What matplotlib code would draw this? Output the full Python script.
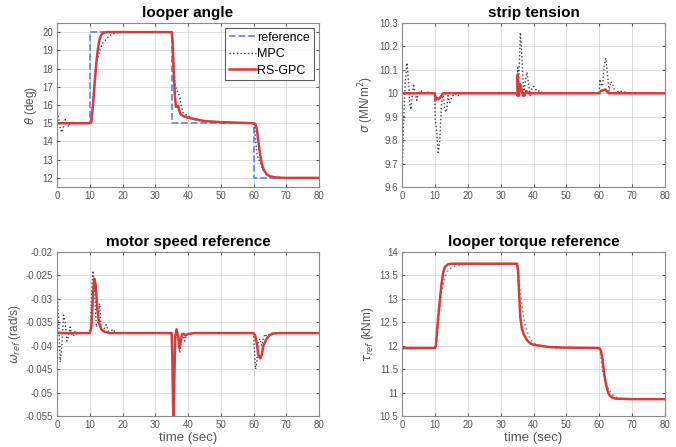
import matplotlib
matplotlib.use("Agg")
import matplotlib.pyplot as plt

plt.rcParams['font.family'] = ['Liberation Sans', 'DejaVu Sans']
plt.rcParams['mathtext.fontset'] = 'dejavusans'

# ---------------- data ----------------
# looper angle (deg)
ref_t = [0, 10, 10, 35, 35, 60, 60, 80]
ref_theta = [15, 15, 20, 20, 15, 15, 12, 12]

mpc_theta_t = [0, 0.5, 1, 1.5, 2, 2.5, 3, 3.5, 4, 5, 6, 10, 10.5, 11, 11.5, 12, 12.5, 13, 14, 15, 16, 17, 18, 20,
               35, 35.3, 35.7, 36, 36.5, 37, 37.5, 38, 38.5, 39, 40, 42, 45, 50, 60, 60.3, 60.7, 61, 61.5, 62,
               62.5, 63, 64, 65, 67, 70, 80]
mpc_theta = [15.6, 15.3, 14.7, 14.5, 14.8, 15.2, 15.1, 14.8, 15.0, 15.05, 15.0, 15.0, 15.3, 16.3, 17.5, 18.3, 18.6,
             19.0, 19.4, 19.6, 19.8, 19.9, 19.95, 20.0,
             20.0, 19.5, 18.0, 17.2, 16.8, 16.7, 16.4, 15.9, 15.6, 15.5, 15.4, 15.2, 15.1, 15.05, 15.0, 14.8, 14.0,
             13.4, 13.0, 12.9, 12.6, 12.4, 12.2, 12.1, 12.03, 12.0, 12.0]

gpc_theta_t = [0, 10, 10.3, 10.5, 11, 11.5, 12, 12.5, 13, 13.5, 14, 15, 35, 35.3, 35.6, 36, 36.3, 37, 37.3, 37.7,
               38.5, 40, 45, 50, 55, 60, 60.5, 61, 61.5, 62, 62.5, 63, 64, 65, 67, 70, 80]
gpc_theta = [15, 15, 15.02, 15.1, 16.0, 17.2, 18.3, 19.1, 19.6, 19.85, 19.95, 20.0, 20.0, 19.5, 18.0, 16.5, 15.9,
             15.95, 15.7, 15.5, 15.4, 15.3, 15.12, 15.06, 15.03, 15.0, 14.95, 14.7, 14.0, 13.3, 12.8, 12.5, 12.2,
             12.08, 12.02, 12.0, 12.0]

# strip tension (MN/m^2)
mpc_sig_t = [0, 0.3, 0.7, 1, 1.5, 2, 2.3, 2.7, 3, 3.5, 4, 4.5, 5, 5.5, 6, 7, 8, 10, 10.1, 10.5, 11, 11.5, 12, 12.5,
             13, 13.5, 14, 14.5, 15, 16, 17, 18, 35, 35.2, 35.5, 36, 36.5, 37, 37.5, 38, 38.5, 39, 39.5, 40, 41,
             42, 43, 60, 60.2, 60.5, 61, 61.5, 62, 62.5, 63, 63.5, 64, 65, 66, 68, 70, 80]
mpc_sig = [9.6, 9.8, 9.95, 10.05, 10.13, 10.05, 9.96, 9.93, 9.97, 10.04, 10.0, 9.97, 10.01, 10.0, 10.01, 10.0,
           10.005, 10.0, 9.89, 9.85, 9.74, 9.80, 9.95, 10.0, 9.93, 9.92, 9.99, 9.96, 9.98, 10.0, 9.99, 10.0,
           10.0, 10.11, 10.05, 10.26, 10.15, 10.0, 10.05, 10.09, 10.04, 9.99, 10.02, 10.03, 10.01, 10.01, 10.0,
           10.0, 10.06, 10.04, 10.03, 10.12, 10.15, 10.08, 10.01, 10.05, 10.04, 10.0, 10.01, 10.005, 10.0, 10.0]

gpc_sig_t = [0, 10, 10.2, 10.5, 11, 11.5, 12, 12.5, 35, 35.1, 35.2, 35.4, 35.6, 35.9, 36.3, 36.8, 37.3, 37.8, 38.5,
             60, 60.5, 61.5, 62, 62.5, 63, 80]
gpc_sig = [10.0, 10.0, 9.97, 9.98, 9.975, 9.98, 9.99, 10.0, 10.0, 9.99, 10.08, 10.0, 9.99, 10.04, 10.02, 9.99,
           9.99, 10.01, 10.0, 10.0, 10.01, 10.015, 10.015, 10.005, 10.0, 10.0]

# motor speed reference (rad/s)
mpc_w_t = [0, 0.5, 1, 1.5, 2, 2.5, 3, 3.5, 4, 4.5, 5, 5.5, 6, 7, 10, 10.3, 10.7, 11, 11.5, 12, 12.5, 13, 13.5, 14,
           15, 16, 17, 18, 35, 35.3, 35.6, 36, 36.5, 37, 37.5, 38, 38.5, 39, 39.5, 40, 42, 60, 60.3, 60.6, 61,
           61.5, 62, 62.5, 63, 63.5, 64, 65, 66, 80]
mpc_w = [-0.0275, -0.035, -0.0435, -0.040, -0.0335, -0.035, -0.039, -0.038, -0.036, -0.0375, -0.038, -0.037,
         -0.0375, -0.0372, -0.0373, -0.035, -0.027, -0.024, -0.028, -0.036, -0.035, -0.031, -0.0365, -0.037,
         -0.0355, -0.0375, -0.0365, -0.0373, -0.0373, -0.045, -0.052, -0.040, -0.0365, -0.039, -0.0415, -0.038,
         -0.0375, -0.039, -0.0378, -0.0375, -0.0373, -0.0373, -0.041, -0.045, -0.0435, -0.039, -0.0385, -0.040,
         -0.0385, -0.0375, -0.038, -0.0375, -0.0373, -0.0373]

gpc_w_t = [0, 10, 10.5, 11, 11.4, 11.8, 12.3, 12.8, 13.5, 14.5, 16, 35, 35.2, 35.5, 35.8, 36.1, 36.5, 37, 37.4,
           37.8, 38.2, 38.7, 39.2, 40, 42, 60, 60.5, 61, 61.5, 62, 62.5, 63, 64, 65, 66, 68, 80]
gpc_w = [-0.0373, -0.0373, -0.036, -0.029, -0.0257, -0.027, -0.032, -0.035, -0.0365, -0.037, -0.0373, -0.0373,
         -0.042, -0.055, -0.048, -0.038, -0.0365, -0.038, -0.0405, -0.039, -0.0375, -0.0375, -0.0378, -0.0375,
         -0.0373, -0.0373, -0.0378, -0.0395, -0.042, -0.0427, -0.042, -0.040, -0.0385, -0.0377, -0.0374,
         -0.0373, -0.0373]

# looper torque reference (kNm)
mpc_tau_t = [0, 1, 10, 10.5, 11, 12, 13, 14, 15, 16, 18, 20, 35, 35.5, 36, 37, 38, 39, 40, 42, 45, 50, 60, 60.3, 61,
             61.5, 62, 63, 64, 65, 67, 70, 80]
mpc_tau = [11.92, 11.94, 11.95, 12.05, 12.5, 13.15, 13.45, 13.6, 13.66, 13.7, 13.73, 13.74, 13.74, 13.5, 13.1,
           12.6, 12.3, 12.15, 12.05, 12.0, 11.96, 11.95, 11.95, 11.85, 11.5, 11.3, 11.2, 11.05, 10.95, 10.9,
           10.87, 10.86, 10.86]

gpc_tau_t = [0, 10, 10.3, 11, 12, 12.5, 13, 14, 15, 35, 35.3, 35.7, 36, 36.5, 37, 38, 39, 40, 45, 50, 60, 60.5, 61,
             61.5, 62, 62.5, 63, 64, 65, 70, 80]
gpc_tau = [11.95, 11.95, 12.0, 12.6, 13.3, 13.55, 13.68, 13.74, 13.75, 13.75, 13.6, 13.0, 12.6, 12.35, 12.25,
           12.12, 12.05, 12.02, 11.97, 11.96, 11.95, 11.9, 11.7, 11.4, 11.2, 11.05, 10.95, 10.89, 10.87, 10.86,
           10.86]

titles = ["looper angle", "strip tension", "motor speed reference", "looper torque reference"]
ylabels = [r"$\theta$ (deg)", r"$\sigma$ (MN/m$^2$)", r"$\omega_{ref}$ (rad/s)", r"$\tau_{ref}$ (kNm)"]
xticks = [0, 10, 20, 30, 40, 50, 60, 70, 80]

# ---------------- style ----------------
RED = '#d93a3a'
BLUE = '#6f86f5'
MPC_COL = '#404040'
TICK_COL = '#555555'

fig = plt.figure(figsize=(6.76, 4.47), dpi=100)
W, H = 676, 447


def make_ax(l, t, r, b):
    return fig.add_axes([l / W, 1 - b / H, (r - l) / W, (b - t) / H])


ax1 = make_ax(57, 23, 319, 187)
ax2 = make_ax(402, 23, 665, 187)
ax3 = make_ax(57, 252, 319, 416)
ax4 = make_ax(402, 252, 665, 416)

# looper angle
ax1.plot(ref_t, ref_theta, '--', color=BLUE, lw=1.3, label='reference')
ax1.plot(mpc_theta_t, mpc_theta, ':', color=MPC_COL, lw=1.0, label='MPC')
ax1.plot(gpc_theta_t, gpc_theta, '-', color=RED, lw=1.8, label='RS-GPC')
ax1.set_ylim(11.5, 20.5)
ax1.set_yticks(range(12, 21))

# strip tension
ax2.plot(mpc_sig_t, mpc_sig, ':', color=MPC_COL, lw=1.0)
ax2.plot(gpc_sig_t, gpc_sig, '-', color=RED, lw=1.8)
ax2.set_ylim(9.6, 10.3)
ax2.set_yticks([9.6, 9.7, 9.8, 9.9, 10.0, 10.1, 10.2, 10.3])
ax2.set_yticklabels(['9.6', '9.7', '9.8', '9.9', '10', '10.1', '10.2', '10.3'])

# motor speed
ax3.plot(mpc_w_t, mpc_w, ':', color=MPC_COL, lw=1.0)
ax3.plot(gpc_w_t, gpc_w, '-', color=RED, lw=1.8)
ax3.set_ylim(-0.055, -0.02)
ax3.set_yticks([-0.055, -0.05, -0.045, -0.04, -0.035, -0.03, -0.025, -0.02])
ax3.set_yticklabels(['-0.055', '-0.05', '-0.045', '-0.04', '-0.035', '-0.03', '-0.025', '-0.02'])

# torque
ax4.plot(mpc_tau_t, mpc_tau, ':', color='#8a8a8a', lw=1.2)
ax4.plot(gpc_tau_t, gpc_tau, '-', color=RED, lw=1.8)
ax4.set_ylim(10.5, 14)
ax4.set_yticks([10.5, 11, 11.5, 12, 12.5, 13, 13.5, 14])
ax4.set_yticklabels(['10.5', '11', '11.5', '12', '12.5', '13', '13.5', '14'])

for ax, ttl, yl in zip([ax1, ax2, ax3, ax4], titles, ylabels):
    ax.set_xlim(0, 80)
    ax.set_xticks(xticks)
    ax.grid(True, color='#d8d8d8', lw=0.6)
    ax.set_axisbelow(True)
    ax.set_title(ttl, fontsize=11, fontweight='bold', pad=4)
    ax.set_ylabel(yl, fontsize=8.5, color=TICK_COL, labelpad=2)
    ax.tick_params(labelsize=7, colors=TICK_COL, length=2.5, direction='in', top=True, right=True, pad=3)
    for s in ax.spines.values():
        s.set_color('#8a8a8a')
        s.set_linewidth(0.8)

for ax in (ax3, ax4):
    ax.set_xlabel('time (sec)', fontsize=9.5, color=TICK_COL, labelpad=1)

leg = ax1.legend(loc='upper right', fontsize=9, frameon=True, fancybox=False, borderpad=0.3,
                 handlelength=2.2, handletextpad=0.1, labelspacing=0.35, borderaxespad=0.4)
leg.get_frame().set_edgecolor('#333333')
leg.get_frame().set_linewidth(0.8)

fig.savefig('out.png', dpi=100)
